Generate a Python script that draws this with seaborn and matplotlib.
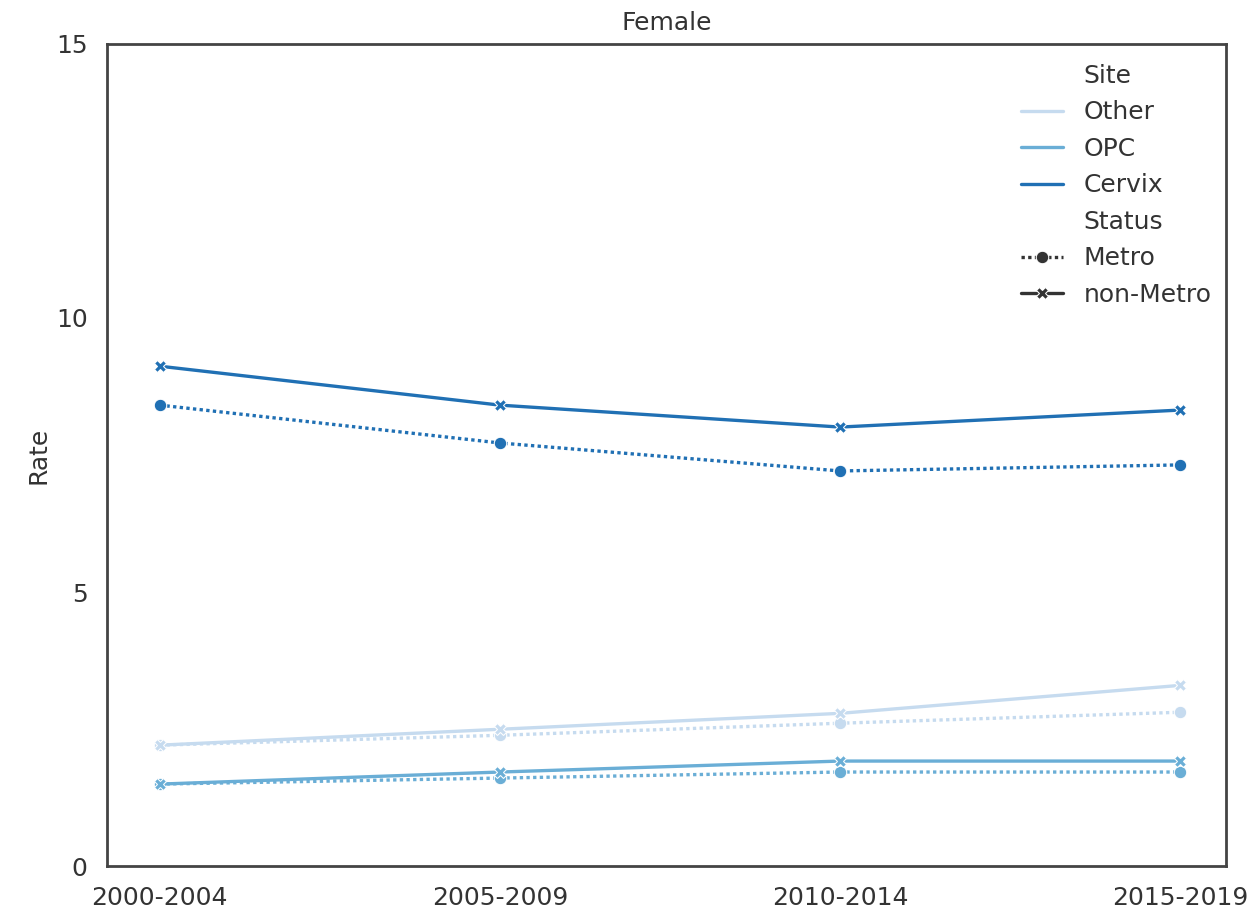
import pandas as pd
import matplotlib
matplotlib.use('Agg')
import matplotlib.pyplot as plt
import seaborn as sns

periods = ['2000-2004', '2005-2009', '2010-2014', '2015-2019']
sites = ['Other', 'OPC', 'Cervix']
statuses = ['Metro', 'non-Metro']

other_metro = [2.21, 2.39, 2.61, 2.81]
other_nonmetro = [2.21, 2.50, 2.79, 3.30]
opc_metro = [1.50, 1.61, 1.72, 1.72]
opc_nonmetro = [1.50, 1.72, 1.92, 1.92]
cervix_metro = [8.41, 7.72, 7.21, 7.32]
cervix_nonmetro = [9.12, 8.41, 8.01, 8.32]


def data():
    series = {
        ('Other', 'Metro'): other_metro,
        ('Other', 'non-Metro'): other_nonmetro,
        ('OPC', 'Metro'): opc_metro,
        ('OPC', 'non-Metro'): opc_nonmetro,
        ('Cervix', 'Metro'): cervix_metro,
        ('Cervix', 'non-Metro'): cervix_nonmetro,
    }
    rows = []
    for (site, status), vals in series.items():
        for p, v in zip(periods, vals):
            rows.append({'Period': p, 'Rate': v, 'Site': site, 'Status': status})
    return pd.DataFrame(rows)


def plot(df):
    sns.set_theme(style='white', rc={'axes.edgecolor': '#444444',
                                     'axes.linewidth': 2.0,
                                     'text.color': '#333333',
                                     'axes.labelcolor': '#333333',
                                     'xtick.color': '#333333',
                                     'ytick.color': '#333333'})
    fig, ax = plt.subplots(figsize=(12.6, 9.11), dpi=100)
    sns.lineplot(data=df, x='Period', y='Rate', hue='Site', style='Status',
                 hue_order=sites, style_order=statuses,
                 palette=sns.color_palette('Blues', 3),
                 dashes={'Metro': (1, 1), 'non-Metro': ''},
                 markers={'Metro': 'o', 'non-Metro': 'X'},
                 markersize=9, linewidth=2.4, ax=ax)
    ax.set_ylim(0, 15)
    ax.set_yticks([0, 5, 10, 15])
    ax.set_xlim(-0.155, 3.135)
    ax.set_xlabel('')
    ax.set_ylabel('Rate', fontsize=18)
    ax.set_title('Female', fontsize=18, pad=10)
    ax.tick_params(labelsize=18, pad=8)
    ax.legend(loc='upper right', frameon=False, fontsize=18,
              handlelength=1.7, bbox_to_anchor=(1.007, 1.003))
    fig.subplots_adjust(left=0.085, right=0.973, top=0.952, bottom=0.049)
    fig.savefig('out.png', dpi=100)


def main():
    df = data()
    plot(df)


if __name__ == '__main__':
    main()
